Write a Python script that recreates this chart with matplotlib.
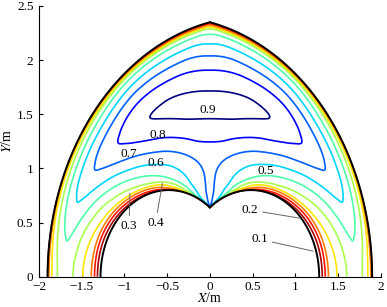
import numpy as np
import matplotlib

matplotlib.use("Agg")
import matplotlib.pyplot as plt  # noqa: E402

plt.rcParams["font.family"] = ["Liberation Serif", "DejaVu Serif"]
plt.rcParams["mathtext.fontset"] = "stix"

# geometry (m)
ARCH_APEX_Y = 2.35      # top of the pointed arch
ARCH_BASE_X = 1.90      # half width of the arch at Y = 0
HOLE_CX = 0.48          # the inner body is two circles at (+-HOLE_CX, 0)
HOLE_R = 0.80

# lobe tips: local gap width (m) -> peak value there, and where the peak sits
# across the gap (0 = inner wall, 1 = outer wall)
GAP_WIDTH = [0.62, 0.64, 0.71, 0.82, 0.97, 1.18, 1.40, 1.71]
GAP_PEAK = [0.455, 0.50, 0.60, 0.70, 0.80, 0.90, 0.935, 0.945]
GAP_T0 = [0.68, 0.684, 0.666, 0.624, 0.588, 0.577, 0.55, 0.53]

# wall -> centre profile (normalised distance, fraction of the peak)
PROF_ETA = [0, 0.02, 0.04, 0.06, 0.085, 0.15, 0.27, 0.42, 0.60, 0.75, 0.86, 1.0]
PROF_VAL = [0, 0.11, 0.22, 0.33, 0.435, 0.54, 0.65, 0.76, 0.87, 0.94, 0.975, 1.0]

# close to the cusp: (wall distance / cusp distance) -> value
CUSP_RHO = [0, 0.015, 0.03, 0.05, 0.08, 0.15, 0.30, 0.50, 0.70, 0.80, 0.95]
CUSP_VAL = [0, 0.25, 0.40, 0.50, 0.58, 0.64, 0.68, 0.70, 0.735, 0.76, 0.765]

LEVELS = [0.03, 0.1, 0.2, 0.3, 0.4, 0.5, 0.6, 0.7, 0.8, 0.9]

INLINE_TXT = ["0.9", "0.8", "0.7", "0.6", "0.5"]
INLINE_XY = [(-0.03, 1.54), (-0.61, 1.31), (-0.945, 1.13), (-0.63, 1.05), (0.66, 0.98)]
LEADER_TXT = ["0.4", "0.3", "0.2", "0.1"]
LEADER_TEXT_XY = [(-0.636, 0.50), (-0.945, 0.47), (0.472, 0.616), (0.585, 0.345)]
LEADER_TIP_XY = [(-0.555, 0.862), (-0.937, 0.77), (1.065, 0.539), (1.21, 0.236)]


def pchip(xk, yk, x):
    """Monotone cubic through the table points (no scipy here)."""
    xk = np.asarray(xk, float)
    yk = np.asarray(yk, float)
    h = np.diff(xk)
    d = np.diff(yk) / h
    m = np.zeros_like(yk)
    m[0], m[-1] = d[0], d[-1]
    for i in range(1, len(xk) - 1):
        if d[i - 1] * d[i] > 0:
            w1 = 2 * h[i] + h[i - 1]
            w2 = h[i] + 2 * h[i - 1]
            m[i] = (w1 + w2) / (w1 / d[i - 1] + w2 / d[i])
    x = np.clip(x, xk[0], xk[-1])
    i = np.clip(np.searchsorted(xk, x) - 1, 0, len(xk) - 2)
    s = (x - xk[i]) / h[i]
    h00 = 2 * s**3 - 3 * s**2 + 1
    h10 = s**3 - 2 * s**2 + s
    h01 = -2 * s**3 + 3 * s**2
    h11 = s**3 - s**2
    return h00 * yk[i] + h10 * h[i] * m[i] + h01 * yk[i + 1] + h11 * h[i] * m[i + 1]


def smin(a, b, beta):
    # rounded minimum; the rounding grows with the distance itself
    lo = np.minimum(a, b)
    k = beta * np.clip(lo, 1e-6, None)
    h = np.clip(k - np.abs(a - b), 0, None) / k
    return lo - h * h * k / 4


def main() -> None:
    c = (ARCH_APEX_Y ** 2 - ARCH_BASE_X ** 2) / (2 * ARCH_BASE_X)
    R = ARCH_BASE_X + c
    y_cusp = np.sqrt(HOLE_R ** 2 - HOLE_CX ** 2)

    x = np.linspace(-2, 2, 801)
    y = np.linspace(0, 2.5, 626)
    X, Y = np.meshgrid(x, y)

    o1, o2 = R - np.hypot(X - c, Y), R - np.hypot(X + c, Y)
    i1 = np.hypot(X - HOLE_CX, Y) - HOLE_R
    i2 = np.hypot(X + HOLE_CX, Y) - HOLE_R
    d_out = np.minimum(o1, o2)
    d_in = np.minimum(i1, i2)
    inside = (d_out > 0) & (d_in > 0)

    so = np.clip(smin(o1, o2, 0.6), 0, None)
    si = np.clip(smin(i1, i2, 0.3), 0, None)
    gap = np.maximum(si + so, 1e-6)
    peak = pchip(GAP_WIDTH, GAP_PEAK, gap)
    t0 = pchip(GAP_WIDTH, GAP_T0, gap)
    t = np.clip(si / gap, 0, 1)
    tp = t ** (np.log(0.5) / np.log(t0))
    # mirror the wall profile so it is smooth over the crest
    eta_full = PROF_ETA + [2 - e for e in PROF_ETA[-2::-1]]
    val_full = PROF_VAL + PROF_VAL[-2::-1]
    base = peak * pchip(eta_full, val_full, 2 * tp)

    rc = np.hypot(X, Y - y_cusp)
    rho = np.clip(d_in, 0, None) / np.maximum(rc, 1e-9)
    w = np.exp(-(rc / 0.52) ** 2)
    u = w * pchip(CUSP_RHO, CUSP_VAL, rho) + (1 - w) * base
    u = np.where(inside, u, 0.0)

    colors = [plt.cm.jet((0.9 - v) / 0.9) for v in LEVELS]

    fig = plt.figure(figsize=(3.87, 3.07), dpi=100)
    ax = fig.add_axes([0.1008, 0.0987, 0.8829, 0.8818])
    ax.contour(X, Y, u, levels=LEVELS, colors=colors, linewidths=1.2)

    # walls
    a_top = np.arctan2(ARCH_APEX_Y, -c)
    th = np.linspace(a_top, np.pi, 200)
    ax.plot(c + R * np.cos(th), R * np.sin(th), color="k", lw=1.4)
    ax.plot(-c - R * np.cos(th), R * np.sin(th), color="k", lw=1.4)
    a_cusp = np.arctan2(y_cusp, HOLE_CX)
    th = np.linspace(a_cusp, np.pi, 200)
    ax.plot(-HOLE_CX + HOLE_R * np.cos(th), HOLE_R * np.sin(th), color="k", lw=1.4)
    ax.plot(HOLE_CX - HOLE_R * np.cos(th), HOLE_R * np.sin(th), color="k", lw=1.4)

    for s, (tx, ty) in zip(INLINE_TXT, INLINE_XY):
        ax.text(tx, ty, s, ha="center", va="center", fontsize=9.5)
    for s, txy, pxy in zip(LEADER_TXT, LEADER_TEXT_XY, LEADER_TIP_XY):
        ax.annotate(s, xy=pxy, xytext=txy, ha="center", va="center", fontsize=9.5,
                    arrowprops=dict(arrowstyle="-", color="0.4", lw=0.7,
                                    shrinkA=1, shrinkB=0))

    ax.set_xlim(-2, 2)
    ax.set_ylim(0, 2.5)
    ax.set_xticks(np.arange(-2, 2.01, 0.5))
    ax.set_xticklabels(["\u22122", "\u22121.5", "\u22121", "\u22120.5", "0",
                        "0.5", "1", "1.5", "2"])
    ax.set_yticks(np.arange(0, 2.51, 0.5))
    ax.set_yticklabels(["0", "0.5", "1", "1.5", "2", "2.5"])
    ax.tick_params(direction="in", length=3, labelsize=9.5)
    ax.tick_params(axis="x", pad=3)
    ax.tick_params(axis="y", pad=4)
    for side in ("top", "right"):
        ax.spines[side].set_visible(False)
    ax.set_xlabel("$X$/m", fontsize=10, labelpad=-1)
    ax.set_ylabel("$Y$/m", fontsize=10, labelpad=2)

    fig.savefig("out.png", dpi=100)
    plt.close(fig)


if __name__ == "__main__":
    main()
